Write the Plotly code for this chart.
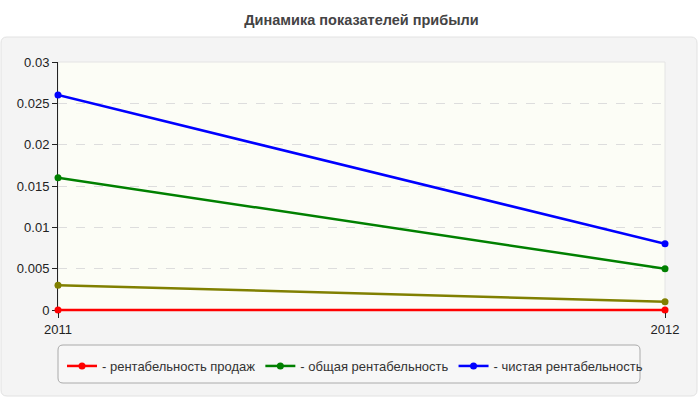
import plotly.graph_objects as go

years = [2011, 2012]
sales_margin = [0, 0]
extra_margin = [0.003, 0.001]
total_margin = [0.016, 0.005]
net_margin = [0.026, 0.008]

W, H = 700, 400
L, R, T, B = 58, 35, 62, 88
pw, ph = W - L - R, H - T - B
# two pixels of room below zero so the red line is not cut in half
y_pad = 0.03 * 2 / (ph - 2)


def px_x(x):
    return (x - L) / pw


def px_y(y):
    return (H - B - y) / ph


def rounded(x0, y0, x1, y1, r):
    # rounded rectangle in pixel units, converted to paper coords
    pts = [
        f"M {px_x(x0 + r)} {px_y(y0)}",
        f"L {px_x(x1 - r)} {px_y(y0)}",
        f"Q {px_x(x1)} {px_y(y0)} {px_x(x1)} {px_y(y0 + r)}",
        f"L {px_x(x1)} {px_y(y1 - r)}",
        f"Q {px_x(x1)} {px_y(y1)} {px_x(x1 - r)} {px_y(y1)}",
        f"L {px_x(x0 + r)} {px_y(y1)}",
        f"Q {px_x(x0)} {px_y(y1)} {px_x(x0)} {px_y(y1 - r)}",
        f"L {px_x(x0)} {px_y(y0 + r)}",
        f"Q {px_x(x0)} {px_y(y0)} {px_x(x0 + r)} {px_y(y0)}",
        "Z",
    ]
    return " ".join(pts)


fig = go.Figure()

series = [
    ("- рентабельность продаж", sales_margin, "#ff0000", True),
    ("extra", extra_margin, "#808000", False),
    ("- общая рентабельность", total_margin, "#008000", True),
    ("- чистая рентабельность", net_margin, "#0000ff", True),
]
order = [1, 2, 3, 0]
for i in order:
    name, vals, color, show = series[i]
    fig.add_trace(go.Scatter(
        x=years, y=vals, name=name, mode="lines+markers",
        line=dict(color=color, width=2.5),
        marker=dict(color=color, size=7),
        showlegend=show, cliponaxis=False,
        legendrank=i,
    ))

fig.add_shape(type="path", xref="paper", yref="paper", layer="below",
              path=rounded(1, 37, 697, 396, 6),
              fillcolor="#f4f4f4", line=dict(color="#e2e2e2", width=1))
fig.add_shape(type="rect", xref="paper", yref="paper", layer="below",
              x0=0, x1=1, y0=px_y(310), y1=1,
              fillcolor="#fcfdf6", line=dict(color="#e4e4e4", width=1))
fig.add_shape(type="path", xref="paper", yref="paper", layer="below",
              path=rounded(58, 345, 640, 383, 5),
              fillcolor="#f7f7f7", line=dict(color="#aaaaaa", width=1))

fig.update_layout(
    width=W, height=H,
    margin=dict(l=L, r=R, t=T, b=B),
    paper_bgcolor="white",
    plot_bgcolor="rgba(0,0,0,0)",
    font=dict(family="Liberation Sans, Arial", size=13, color="#222"),
    title=dict(text="<b>Динамика показателей прибыли</b>",
               x=0.5, xref="paper", xanchor="center", y=1 - 20 / H, yanchor="middle",
               font=dict(size=14.5, color="#444")),
    showlegend=True,
    legend=dict(orientation="h", x=px_x(62), y=px_y(351), xanchor="left", yanchor="top",
                bgcolor="rgba(0,0,0,0)", borderwidth=0,
                font=dict(size=13, color="#333"), itemwidth=30,
                traceorder="normal"),
)
fig.update_xaxes(range=[2011, 2012], tickvals=years, ticktext=[str(y) for y in years],
                 showgrid=False, zeroline=False, showline=False,
                 ticks="outside", ticklen=5, tickcolor="#222",
                 tickfont=dict(size=13, color="#222"))
fig.update_yaxes(range=[-y_pad, 0.03], tickvals=[0, 0.005, 0.01, 0.015, 0.02, 0.025, 0.03],
                 ticktext=["0", "0.005", "0.01", "0.015", "0.02", "0.025", "0.03"],
                 showgrid=True, gridcolor="#dddddd", griddash="dash",
                 zeroline=False, showline=True, linecolor="#222",
                 ticks="outside", ticklen=5, tickcolor="#222", layer="below traces",
                 tickfont=dict(size=13, color="#222"))

fig.write_html("out.html", config={"displayModeBar": False},
               post_script="document.body.style.margin='0';")
